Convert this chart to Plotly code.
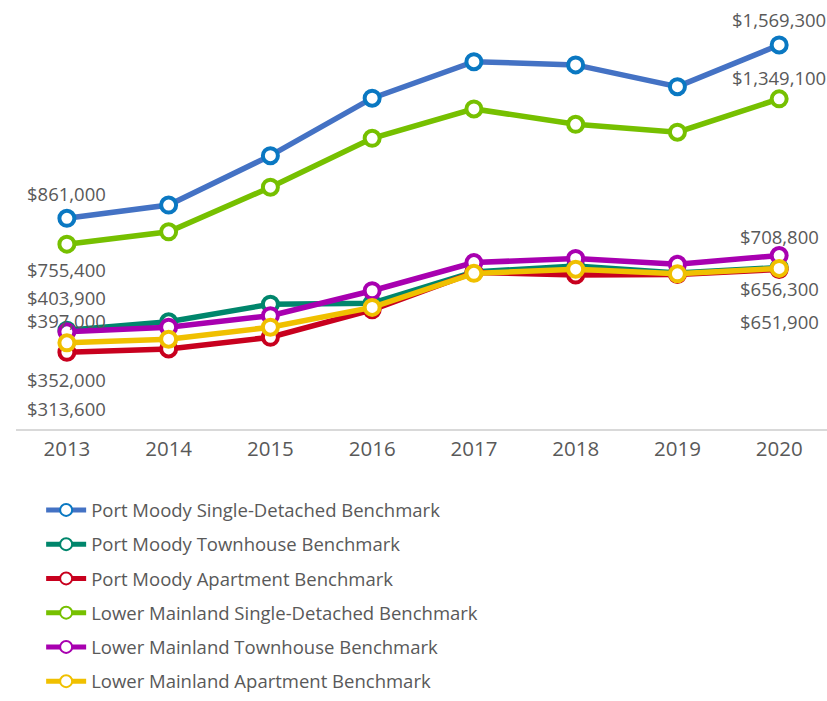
import plotly.graph_objects as go

years = ["2013", "2014", "2015", "2016", "2017", "2018", "2019", "2020"]

series_names = [
    "Port Moody Single-Detached Benchmark",
    "Port Moody Townhouse Benchmark",
    "Port Moody Apartment Benchmark",
    "Lower Mainland Single-Detached Benchmark",
    "Lower Mainland Townhouse Benchmark",
    "Lower Mainland Apartment Benchmark",
]

pm_single = [861000, 915000, 1117000, 1352000, 1501000, 1488000, 1399000, 1569300]
pm_town = [403900, 438000, 510000, 514000, 642000, 666000, 638000, 660000]
pm_apt = [313600, 327000, 375000, 487000, 640000, 629000, 631000, 651900]
lm_single = [755400, 806000, 988000, 1188000, 1308000, 1245000, 1213000, 1349100]
lm_town = [397000, 416000, 463000, 565000, 680000, 697000, 673000, 708800]
lm_apt = [352000, 367000, 416000, 497000, 636000, 653000, 634000, 656300]

series_values = [pm_single, pm_town, pm_apt, lm_single, lm_town, lm_apt]

# styles
line_colors = ["#4472C4", "#00866C", "#C8001E", "#76C000", "#A800B0", "#F0C000"]
marker_colors = ["#0A78C2", "#00866C", "#C8001E", "#76C000", "#A800B0", "#F0C000"]

# labels: (series index, point index, vertical pixel shift)
labels = [
    (0, 0, 25), (3, 0, -25), (1, 0, 33), (4, 0, 11), (5, 0, -37), (2, 0, -56),
    (0, 7, 25), (3, 7, 21), (4, 7, 19), (5, 7, -20), (2, 7, -52),
]

fig = go.Figure()
for i, (name, vals) in enumerate(zip(series_names, series_values)):
    fig.add_trace(go.Scatter(
        x=years, y=vals, name=name, mode="lines+markers",
        legendgroup=name,
        line=dict(color=line_colors[i], width=5.5),
        marker=dict(symbol="circle", size=15, color="white",
                    line=dict(color=marker_colors[i], width=4)),
    ))

for si, pi, dy in labels:
    v = series_values[si][pi]
    fig.add_annotation(
        x=pi, y=v, xref="x", yref="y", text="$" + f"{v:,}",
        showarrow=False, yshift=dy,
        font=dict(family="Open Sans", size=18.5, color="#595959"),
    )

fig.update_layout(
    width=827, height=701,
    margin=dict(l=16, r=0, t=13, b=272, autoexpand=False),
    paper_bgcolor="white", plot_bgcolor="white",
    showlegend=True,
    legend=dict(
        x=0.031, y=-0.15, xanchor="left", yanchor="top",
        orientation="v", tracegroupgap=7.2, itemwidth=40,
        itemsizing="constant",
        font=dict(family="Open Sans", size=18.5, color="#595959"),
        traceorder="grouped",
    ),
    xaxis=dict(
        type="category", range=[-0.5, 7.47],
        showline=True, linecolor="#D9D9D9", linewidth=2,
        showgrid=False, ticks="", zeroline=False,
        tickfont=dict(family="Open Sans", size=20.5, color="#595959"),
    ),
    yaxis=dict(
        range=[0, 1700000], showticklabels=False, showgrid=False,
        zeroline=False, showline=False, ticks="",
    ),
)

fig.write_html(
    "out.html",
    config={"displayModeBar": False},
    post_script="document.body.style.margin='0px';"
                "document.documentElement.style.overflow='hidden';"
                "document.body.style.overflow='hidden';",
)
